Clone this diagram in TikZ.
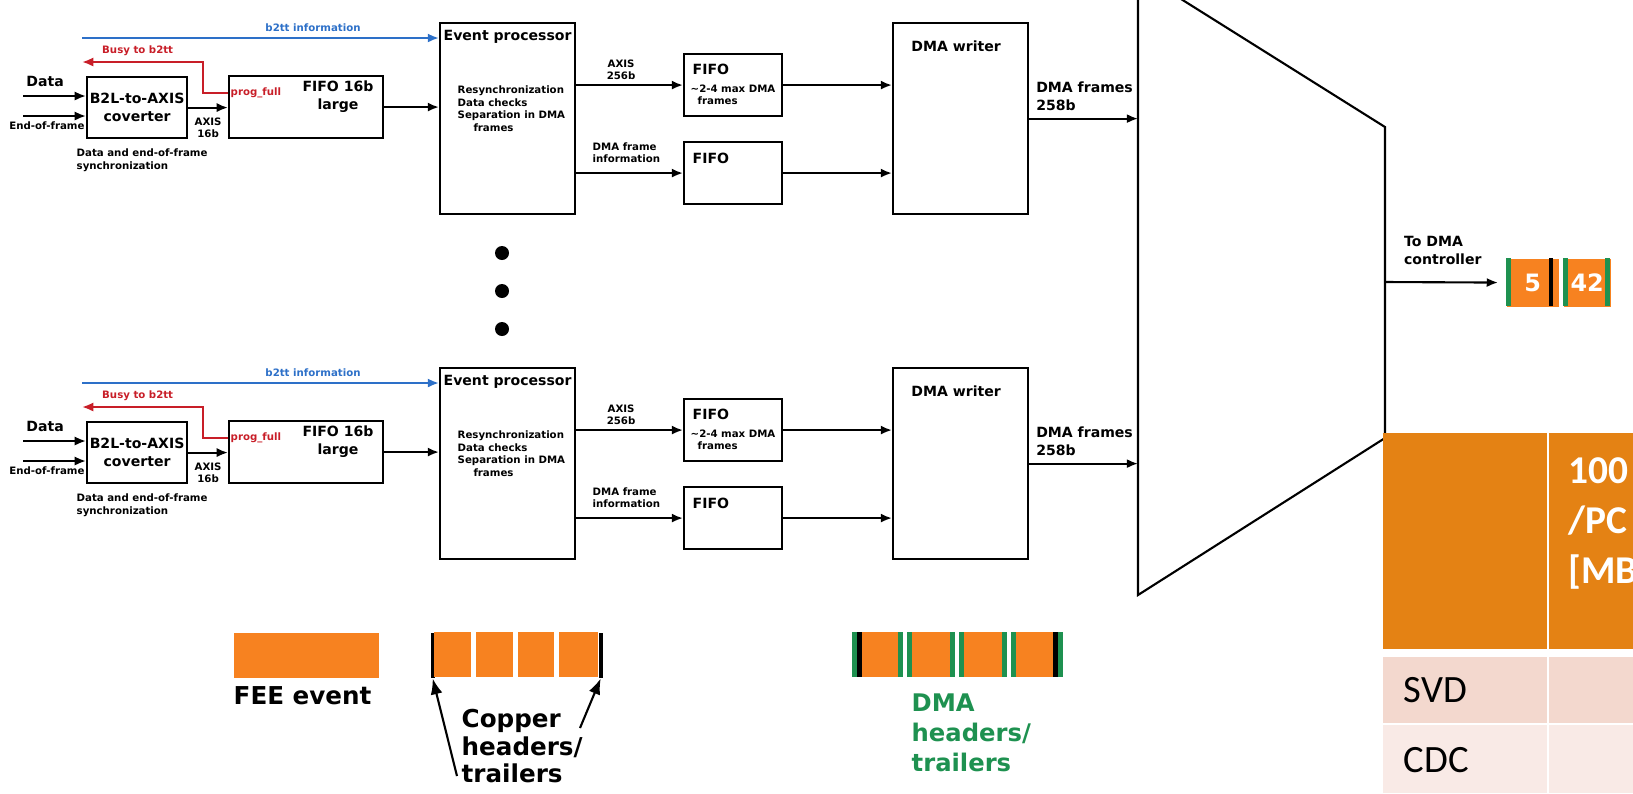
\documentclass[tikz,border=0pt]{standalone}
\usepackage{fontspec}
\setmainfont{DejaVu Sans}
\newfontfamily\tabfont{Carlito}
\usepackage{tikz}
\usetikzlibrary{arrows.meta,positioning}
\definecolor{B2ttBlue}{RGB}{45,112,200}
\definecolor{BusyRed}{RGB}{200,30,40}
\definecolor{FeeOrange}{RGB}{247,130,32}
\definecolor{DmaGreen}{RGB}{30,145,80}
\definecolor{TabOrange}{RGB}{228,130,20}
\definecolor{TabRowA}{RGB}{243,216,206}
\definecolor{TabRowB}{RGB}{249,234,230}

\begin{document}
\begin{tikzpicture}[
    x=0.01cm, y=-0.01cm,
    every node/.style={inner sep=0pt},
    block/.style={rectangle, draw, line width=0.6pt, anchor=north west},
    boxtitle/.style={font=\bfseries\fontsize{4}{5.1}\selectfont, align=center},
    smalltxt/.style={font=\bfseries\fontsize{2.9}{3.6}\selectfont, align=left},
    legendtxt/.style={font=\bfseries\fontsize{7}{7.7}\selectfont, align=left, anchor=north west},
    arrow/.style={-{Latex[length=3.2pt,width=2.6pt]}, line width=0.6pt},
    bigarrow/.style={-{Latex[length=4.5pt,width=3.4pt]}, line width=0.6pt},
    seg/.style={rectangle, anchor=north west, minimum height=0.45cm}
  ]
    \useasboundingbox (0,0) rectangle (1633,793);
    \clip (0,0) rectangle (1633,793);

    % multiplexer
    \draw[line width=0.6pt] (1138,-28) -- (1385,127) -- (1385,438) -- (1138,595) -- cycle;
    \coordinate (mux) at (1138,283);
    \coordinate (muxout) at (1385,282);

    % two readout chains
    \foreach \row/\dy in {1/0, 2/345} {
    \begin{scope}[shift={(0,\dy)}]
      \node[block, boxtitle, minimum width=1cm, minimum height=0.61cm] (b2l\row) at (86,76) {B2L-to-AXIS\\coverter};
      \node[block, minimum width=1.54cm, minimum height=0.62cm] (fifo\row) at (228,75) {};
      \node[boxtitle] at (338,97) {FIFO 16b\\large};
      \node[block, minimum width=1.35cm, minimum height=1.91cm] (ep\row) at (439,22) {};
      \node[boxtitle, below=0.08cm of ep\row.north] {Event processor};
      \node[smalltxt, anchor=north west] at (457,85) {Resynchronization\\Data checks\\Separation in DMA\\\hspace*{4.5pt}frames};
      \node[block, minimum width=0.98cm, minimum height=0.62cm] (fifoa\row) at (683,53) {};
      \node[boxtitle, anchor=north west] at (692,63) {FIFO};
      \node[smalltxt, anchor=north west] at (690,84) {\textasciitilde2-4 max DMA\\\hspace*{2pt}frames};
      \node[block, minimum width=0.98cm, minimum height=0.62cm] (fifob\row) at (683,141) {};
      \node[boxtitle, anchor=north west] at (692,152) {FIFO};
      \node[block, minimum width=1.35cm, minimum height=1.91cm] (dma\row) at (892,22) {};
      \node[boxtitle, below=0.18cm of dma\row.north, xshift=-0.045cm] {DMA writer};

      \coordinate (din\row) at (23,96);
      \coordinate (ein\row) at (23,116);
      \coordinate (b2tt\row) at (82,38);
      \coordinate (busy\row) at (82,62);
      \coordinate (bend\row) at (203,62);

      \draw[arrow] (din\row) -- (din\row -| b2l\row.west) node[boxtitle, pos=0.35, above=0.08cm] {Data};
      \draw[arrow] (ein\row) -- (ein\row -| b2l\row.west) node[smalltxt, pos=0.38, below=0.05cm] {End-of-frame};
      \node[smalltxt, anchor=north west] at (76,148) {Data and end-of-frame\\synchronization};
      \draw[arrow] (b2l\row.east) -- (b2l\row.east -| fifo\row.west) node[smalltxt, align=center, midway, below=0.09cm] {AXIS\\16b};
      \draw[arrow] (fifo\row.east) -- (fifo\row.east -| ep\row.west);
      \draw[arrow, B2ttBlue] (b2tt\row) -- (b2tt\row -| ep\row.west) node[smalltxt, pos=0.647, above=0.05cm] {b2tt information};
      \draw[arrow, BusyRed] ([yshift=-0.18cm]fifo\row.north west) -| (bend\row) -- (busy\row) node[smalltxt, pos=0.54, above=0.05cm] {Busy to b2tt};
      \node[smalltxt, text=BusyRed, anchor=west] at ([xshift=0.02cm, yshift=-0.18cm]fifo\row.north west) {prog\_full};
      \draw[arrow] (fifoa\row.west -| ep\row.east) -- (fifoa\row.west) node[smalltxt, align=center, pos=0.42, above=0.04cm] {AXIS\\256b};
      \draw[arrow] (fifob\row.west -| ep\row.east) -- (fifob\row.west) node[smalltxt, pos=0.47, above=0.09cm] {DMA frame\\information};
      \draw[arrow] (fifoa\row.east) -- (fifoa\row.east -| dma\row.west);
      \draw[arrow] (fifob\row.east) -- (fifob\row.east -| dma\row.west);
      \draw[arrow] (dma\row.east) -- (dma\row.east -| mux) node[boxtitle, align=left, pos=0, anchor=south west, xshift=0.06cm, yshift=0.07cm] {DMA frames\\258b};
    \end{scope}
    }

    % dots between the chains
    \node[circle, fill, minimum size=0.14cm] (dot1) at (502,253) {};
    \node[circle, fill, minimum size=0.14cm] (dot2) at (502,291) {};
    \node[circle, fill, minimum size=0.14cm] (dot3) at (502,329) {};

    % output packets
    \node[seg, fill=FeeOrange, minimum width=0.52cm, minimum height=0.48cm, anchor=north west, text=white, font=\bfseries\fontsize{6.8}{6.8}\selectfont] (pkta) at (1506,258) {5};
    \node[seg, fill=FeeOrange, minimum width=0.47cm, minimum height=0.48cm, anchor=north west, text=white, font=\bfseries\fontsize{6.8}{6.8}\selectfont] (pktb) at (1563,258) {42};
    \fill[DmaGreen] (1506,258) rectangle ++(5,48);
    \fill (1549,258) rectangle ++(4,48);
    \fill[DmaGreen] (1563,258) rectangle ++(5,48);
    \fill[DmaGreen] (1610,258) rectangle ++(-5,48);
    \draw[arrow, shorten >=0.08cm] (muxout) -- (pkta) node[boxtitle, align=left, pos=0, anchor=south west, xshift=0.18cm, yshift=0.16cm] {To DMA\\controller};

    % table
    \fill[TabOrange] (1383,433) rectangle (1547,649);
    \fill[TabOrange] (1549,433) rectangle (1633,649);
    \fill[TabRowA] (1383,657) rectangle (1547,723);
    \fill[TabRowA] (1549,657) rectangle (1633,723);
    \fill[TabRowB] (1383,725) rectangle (1547,793);
    \fill[TabRowB] (1549,725) rectangle (1633,793);
    \node[anchor=north west, text=white, font=\tabfont\bfseries\fontsize{11.2}{14.2}\selectfont, align=left] (rate) at (1568,457) {100\\/PC\\{[MB}};
    \node[anchor=west, font=\tabfont\fontsize{11}{13}\selectfont] (svd) at (1403,690) {SVD};
    \node[anchor=west, font=\tabfont\fontsize{11}{13}\selectfont] (cdc) at (1403,760) {CDC};

    % legend: FEE event
    \node[seg, fill=FeeOrange, minimum width=1.45cm] (fee) at (233,632) {};
    \node[legendtxt] (feetxt) at (233,686) {FEE event};

    % legend: copper headers
    \node[seg, fill=black, minimum width=0.04cm] (cul) at (430,632) {};
    \foreach \xa/\w in {434/37, 476/37, 518/36, 559/39}
      \fill[FeeOrange] (\xa,632) rectangle ++(\w,45);
    \node[seg, fill=black, minimum width=0.04cm] (cur) at (598,632) {};
    \node[legendtxt] (cutxt) at (461,709) {Copper\\headers/\\trailers};
    \coordinate (cutailL) at (457,776);
    \coordinate (cutailR) at (580,728);
    \draw[bigarrow] (cutailL) -- (cul.south);
    \draw[bigarrow] (cutailR) -- (cur.south);

    % legend: DMA headers
    \foreach \xa/\xb in {852/903, 907/955, 959/1007, 1011/1063} {
      \fill[FeeOrange] (\xa,632) rectangle (\xb,677);
      \fill[DmaGreen] (\xa,632) rectangle ++(5,45);
      \fill[DmaGreen] (\xb,632) rectangle ++(-5,45);
    }
    \fill (857,632) rectangle (862,677);
    \fill (1053,632) rectangle (1058,677);
    \node[legendtxt, text=DmaGreen, font=\bfseries\fontsize{6.9}{8.5}\selectfont] (dmatxt) at (911,693) {DMA\\headers/\\trailers};
\end{tikzpicture}
\end{document}
